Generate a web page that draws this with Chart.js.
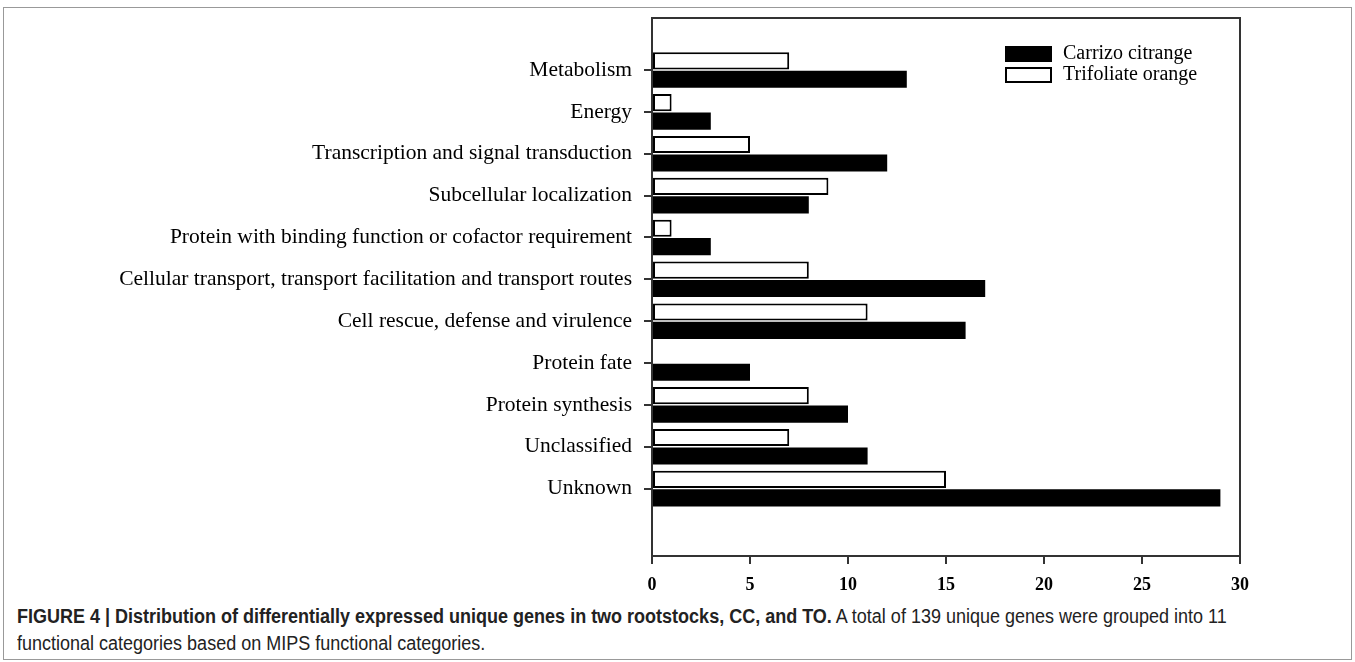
<!DOCTYPE html>
<html>
<head>
<meta charset="utf-8">
<script src="https://cdn.jsdelivr.net/npm/chart.js@4.4.0/dist/chart.umd.min.js"></script>
<style>
  body { margin: 0; background: #fff; }
  #frame { position: absolute; left: 3px; top: 7px; width: 1347px; height: 651px; border: 1px solid #999; }
  #wrap { position: absolute; left: 0; top: 0; width: 1355px; height: 600px; }
  #caption { position: absolute; left: 17px; top: 603px; width: 1430px; transform: scaleX(0.9); transform-origin: left top;
             font-family: "Liberation Sans", sans-serif; font-size: 20px; line-height: 27px; color: #222; }
</style>
</head>
<body>
<div id="frame"></div>
<div id="wrap"><canvas id="chart" width="1355" height="600"></canvas></div>
<div id="caption"><b>FIGURE 4 | Distribution of differentially expressed unique genes in two rootstocks, CC, and TO.</b> A total of 139 unique genes were grouped into 11 functional categories based on MIPS functional categories.</div>
<script>
// categories top to bottom
var categories = ['Metabolism', 'Energy', 'Transcription and signal transduction', 'Subcellular localization',
    'Protein with binding function or cofactor requirement', 'Cellular transport, transport facilitation and transport routes',
    'Cell rescue, defense and virulence', 'Protein fate', 'Protein synthesis', 'Unclassified', 'Unknown'];
var carrizo = [13, 3, 12, 8, 3, 17, 16, 5, 10, 11, 29];
var trifoliate = [7, 1, 5, 9, 1, 8, 11, 0, 8, 7, 15];
var xTicks = [0, 5, 10, 15, 20, 25, 30];

function pts(vals) {
    return vals.map(function (v, i) { return { x: v, y: i + 1 }; });
}

// box round the plot + legend inside the top right corner
var frameBox = {
    id: 'frameBox',
    afterDraw: function (chart) {
        var a = chart.chartArea, ctx = chart.ctx;
        ctx.save();
        ctx.strokeStyle = '#333';
        ctx.lineWidth = 2;
        ctx.strokeRect(a.left, a.top, a.right - a.left, a.bottom - a.top);

        var order = [1, 0];
        var lx = 1006, ly = 47;
        ctx.font = '20px "Liberation Serif"';
        ctx.textBaseline = 'middle';
        order.forEach(function (di, k) {
            var ds = chart.data.datasets[di];
            var y = ly + k * 21;
            ctx.fillStyle = ds.backgroundColor;
            ctx.fillRect(lx, y, 45, 14);
            ctx.strokeStyle = '#000';
            ctx.lineWidth = 2;
            ctx.strokeRect(lx, y, 45, 14);
            ctx.fillStyle = '#000';
            ctx.fillText(ds.label, lx + 57, y + 7);
        });
        ctx.restore();
    }
};

var ctx = document.getElementById('chart');
var myChart = new Chart(ctx, {
    type: 'bar',
    data: {
        datasets: [{
            label: 'Trifoliate orange',
            data: pts(trifoliate),
            backgroundColor: '#fff',
            borderColor: '#000',
            borderWidth: 2,
            borderSkipped: false
        }, {
            label: 'Carrizo citrange',
            data: pts(carrizo),
            backgroundColor: '#000',
            borderColor: '#000',
            borderWidth: 0
        }]
    },
    options: {
        responsive: false,
        animation: false,
        indexAxis: 'y',
        layout: { padding: { top: 18, right: 115, left: 0, bottom: 0 } },
        barPercentage: 0.93,
        categoryPercentage: 0.88,
        plugins: {
            tooltip: { enabled: false },
            legend: { display: false }
        },
        scales: {
            x: {
                type: 'linear',
                min: 0,
                max: 30,
                afterBuildTicks: function (s) { s.ticks = xTicks.map(function (v) { return { value: v }; }); },
                afterFit: function (s) { s.height = 44; },
                grid: { display: true, drawOnChartArea: false, drawTicks: true, tickLength: 8, color: '#333', lineWidth: 2 },
                border: { display: true, color: '#333', width: 2 },
                ticks: { color: '#000', padding: 11, font: { family: 'Liberation Serif', size: 18, weight: 'bold' } }
            },
            y: {
                type: 'linear',
                reverse: true,
                offset: false,
                min: -0.243,
                max: 12.61,
                afterBuildTicks: function (s) { s.ticks = categories.map(function (c, i) { return { value: i + 1 }; }); },
                afterFit: function (s) { s.width = 652; s.paddingTop = 0; s.paddingBottom = 0; },
                grid: { display: true, offset: false, drawOnChartArea: false, drawTicks: true, tickLength: 8, color: '#333', lineWidth: 2 },
                border: { display: true, color: '#333', width: 2 },
                ticks: {
                    autoSkip: false,
                    color: '#000',
                    padding: 12,
                    font: { family: 'Liberation Serif', size: 21.5 },
                    callback: function (v) { return categories[v - 1]; }
                }
            }
        }
    },
    plugins: [frameBox]
});
</script>
</body>
</html>
